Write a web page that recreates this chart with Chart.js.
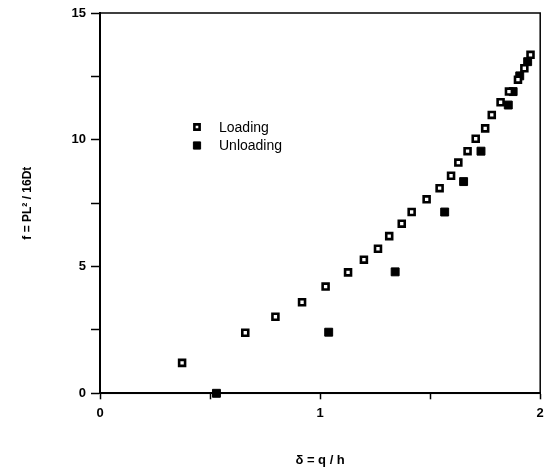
<!DOCTYPE html>
<html>
<head>
<meta charset="utf-8">
<script src="https://cdn.jsdelivr.net/npm/chart.js@4/dist/chart.umd.min.js"></script>
<style>
  html, body { margin: 0; padding: 0; background: #fff; }
  #wrap { width: 547px; height: 470px; }
</style>
</head>
<body>
<div id="wrap"><canvas id="chart"></canvas></div>
<script>
// loading branch
const loadX = [0.373, 0.660, 0.797, 0.918, 1.025, 1.127, 1.199, 1.263, 1.314, 1.371, 1.416, 1.484,
               1.543, 1.595, 1.628, 1.670, 1.707, 1.750, 1.780, 1.820, 1.858, 1.899, 1.928, 1.956];
const loadY = [1.20, 2.39, 3.02, 3.59, 4.21, 4.77, 5.27, 5.70, 6.20, 6.69, 7.15, 7.65,
               8.09, 8.58, 9.10, 9.55, 10.04, 10.45, 10.98, 11.48, 11.90, 12.37, 12.82, 13.35];

// unloading branch
const unloadX = [0.529, 1.039, 1.341, 1.566, 1.652, 1.731, 1.855, 1.877, 1.907, 1.943];
const unloadY = [0.00, 2.41, 4.79, 7.15, 8.35, 9.55, 11.37, 11.90, 12.52, 13.08];

const seriesNames = ['Loading', 'Unloading'];
const xTitle = 'δ = q / h';
const yTitle = 'f = PL² / 16Dt';

const toPoints = (xs, ys) => xs.map((x, i) => ({ x: x, y: ys[i] }));

// box around the plot area
const frame = {
  id: 'frame',
  afterDraw(chart) {
    const { ctx, chartArea: a } = chart;
    ctx.save();
    ctx.strokeStyle = '#000';
    ctx.lineWidth = 1.5;
    ctx.strokeRect(a.left, a.top, a.right - a.left, a.bottom - a.top);
    ctx.restore();
  }
};

// legend drawn inside the plot
const insideLegend = {
  id: 'insideLegend',
  afterDraw(chart) {
    const ctx = chart.ctx;
    ctx.save();
    ctx.font = '14px "Liberation Sans", Arial, sans-serif';
    ctx.textBaseline = 'middle';
    chart.data.datasets.forEach((ds, i) => {
      const y = 127 + i * 18.5;
      ctx.fillStyle = ds.backgroundColor;
      ctx.strokeStyle = ds.borderColor;
      ctx.lineWidth = ds.borderWidth;
      Chart.helpers.drawPoint(ctx, { pointStyle: 'rect', radius: ds.pointRadius - 0.5, borderWidth: ds.borderWidth }, 197, y);
      ctx.fillStyle = '#000';
      ctx.fillText(ds.label, 219, y + 1);
    });
    ctx.restore();
  }
};

const tickFont = { family: '"Liberation Sans", Arial, sans-serif', size: 13, weight: 'bold' };
const titleFont = { family: '"Liberation Sans", Arial, sans-serif', size: 12, weight: 'bold' };

new Chart(document.getElementById('chart'), {
  type: 'scatter',
  data: {
    datasets: [
      {
        label: seriesNames[0],
        data: toPoints(loadX, loadY),
        pointStyle: 'rect',
        pointRadius: 4.2,
        backgroundColor: '#fff',
        borderColor: '#000',
        borderWidth: 2.6,
        clip: false
      },
      {
        label: seriesNames[1],
        data: toPoints(unloadX, unloadY),
        pointStyle: 'rect',
        pointRadius: 5.6,
        backgroundColor: '#000',
        borderColor: '#000',
        borderWidth: 1,
        clip: false
      }
    ]
  },
  options: {
    responsive: true,
    maintainAspectRatio: false,
    animation: false,
    layout: { padding: { top: 13, right: 5.3, left: 0, bottom: 0 } },
    plugins: {
      legend: { display: false },
      tooltip: { enabled: false }
    },
    scales: {
      x: {
        type: 'linear',
        min: 0,
        max: 2,
        afterFit(scale) {
          scale.height = 76.7;
          scale.paddingLeft = 0;
          scale.paddingRight = 0;
        },
        border: { color: '#000', width: 2 },
        grid: { drawOnChartArea: false, color: '#000', tickLength: 6, tickWidth: 1.5 },
        ticks: {
          stepSize: 0.5,
          color: '#000',
          font: tickFont,
          padding: 6,
          maxRotation: 0,
          callback: v => Number.isInteger(v) ? String(v) : ''
        },
        title: { display: true, text: xTitle, color: '#000', font: { ...titleFont, size: 13 }, padding: { top: 0, bottom: 2 } }
      },
      y: {
        type: 'linear',
        min: 0,
        max: 15,
        afterFit(scale) {
          scale.width = 100;
          scale.paddingTop = 0;
          scale.paddingBottom = 0;
        },
        border: { color: '#000', width: 2 },
        grid: { drawOnChartArea: false, color: '#000', tickLength: 9, tickWidth: 1.5 },
        ticks: {
          stepSize: 2.5,
          color: '#000',
          font: tickFont,
          padding: 5,
          callback: v => Number.isInteger(v) ? String(v) : ''
        },
        title: { display: true, text: yTitle, color: '#000', font: titleFont, padding: { top: 20, bottom: 0 } }
      }
    }
  },
  plugins: [frame, insideLegend]
});
</script>
</body>
</html>
